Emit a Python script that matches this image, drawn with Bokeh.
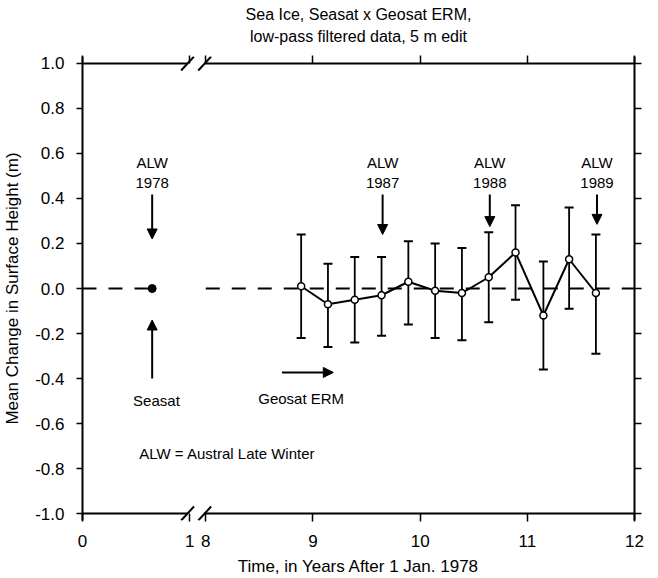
import numpy as np
from bokeh.plotting import figure
from bokeh.models import (FixedTicker, LinearAxis, Range1d, Arrow, NormalHead, Label, Title,
                          Whisker, ColumnDataSource, NumeralTickFormatter, TeeHead)
from bokeh.embed import file_html
from bokeh.resources import INLINE

# ---------------- data (years after 1 Jan 1978, metres) ----------------
seasat_time = [0.65]
seasat_change = [0.0]

geosat_time = [8.89, 9.14, 9.39, 9.64, 9.89, 10.14, 10.39, 10.64, 10.89, 11.15, 11.39, 11.64]
geosat_change = [0.01, -0.07, -0.05, -0.03, 0.03, -0.01, -0.02, 0.05, 0.16, -0.12, 0.13, -0.02]
geosat_upper = [0.24, 0.11, 0.14, 0.14, 0.21, 0.20, 0.18, 0.25, 0.37, 0.12, 0.36, 0.24]
geosat_lower = [-0.22, -0.26, -0.24, -0.21, -0.16, -0.22, -0.23, -0.15, -0.05, -0.36, -0.09, -0.29]

alw_time = [0.65, 9.65, 10.65, 11.65]
alw_year = ["1978", "1987", "1988", "1989"]
alw_arrow_tip = [0.22, 0.24, 0.275, 0.285]

x_tick_years = [0, 1, 8, 9, 10, 11, 12]
y_ticks = [-1.0, -0.8, -0.6, -0.4, -0.2, 0.0, 0.2, 0.4, 0.6, 0.8, 1.0]

title_lines = ["Sea Ice, Seasat x Geosat ERM,", "low-pass filtered data, 5 m edit"]
x_label = "Time, in Years After 1 Jan. 1978"
y_label = "Mean Change in Surface Height (m)"

# ---------------- broken time axis ----------------
BREAK_LO, BREAK_HI, GAP = 1.0, 8.0, 0.15


def bx(t):
    t = np.asarray(t, dtype=float)
    return np.where(t <= BREAK_LO + 0.5, t, t - BREAK_HI + BREAK_LO + GAP)


FONT = "Liberation Sans"
X_END = float(bx(12))
PAD = 7 / 225.5          # vertical axes overshoot the box by a few pixels
Y0, Y1 = y_ticks[0], y_ticks[-1]

p = figure(width=658, height=578, output_backend="svg", toolbar_location=None,
           x_range=Range1d(0, X_END), y_range=Range1d(Y0 - PAD, Y1 + PAD),
           x_axis_location=None, y_axis_location=None,
           min_border_left=82, min_border_right=24, min_border_top=56, min_border_bottom=57)
p.grid.visible = False
p.outline_line_color = None
p.background_fill_color = "white"
p.border_fill_color = "white"

xt = [float(v) for v in bx(x_tick_years)]
x_over = {u: str(y) for u, y in zip(xt, x_tick_years)}


def style(ax, show_labels, tick_in, tick_out):
    ax.axis_line_width = 2
    ax.axis_line_color = "black"
    ax.major_tick_line_width = 1.5
    ax.major_tick_out = tick_out
    ax.major_tick_in = tick_in
    ax.minor_tick_out = 0
    ax.minor_tick_in = 0
    ax.major_label_text_font = FONT
    if show_labels:
        ax.major_label_text_font_size = "17px"
        ax.major_label_text_color = "black"
    else:
        ax.major_label_text_font_size = "1px"
        ax.major_label_text_color = None
        ax.major_label_standoff = 0
    ax.axis_label_text_font = FONT
    ax.axis_label_text_font_style = "normal"
    ax.axis_label_text_font_size = "17px"
    ax.axis_label_text_color = "black"


bottom = LinearAxis(ticker=FixedTicker(ticks=xt), major_label_overrides=x_over, axis_label=x_label)
style(bottom, True, 7, 1)
bottom.axis_line_color = None
bottom.major_label_standoff = 13
bottom.axis_label_standoff = 7
p.add_layout(bottom, "below")

top = LinearAxis(ticker=FixedTicker(ticks=xt))
style(top, False, 7, 1)
top.axis_line_color = None
p.add_layout(top, "above")

# invisible spacer axis: lifts the two title lines away from the box
spacer = LinearAxis(ticker=FixedTicker(ticks=xt))
style(spacer, False, 0, 8)
spacer.axis_line_color = None
spacer.major_tick_line_color = None
p.add_layout(spacer, "above")

p.add_layout(Title(text=title_lines[1], align="center", offset=-25, text_font=FONT,
                   text_font_size="16px", text_font_style="normal", text_color="black",
                   standoff=6), "above")
p.add_layout(Title(text=title_lines[0], align="center", offset=-25, text_font=FONT,
                   text_font_size="16px", text_font_style="normal", text_color="black",
                   standoff=0), "above")

left = LinearAxis(ticker=FixedTicker(ticks=y_ticks), formatter=NumeralTickFormatter(format="0.0"),
                  axis_label=y_label)
style(left, True, 0, 6)
left.major_label_standoff = 12
left.axis_label_standoff = 10
p.add_layout(left, "left")

right = LinearAxis(ticker=FixedTicker(ticks=y_ticks))
style(right, False, 0, 7)
p.add_layout(right, "right")

# top and bottom box lines, interrupted by the axis break
cut_a, cut_b = 0.98, 1.14
box_xs, box_ys = [], []
for yy in (Y0, Y1):
    for xs, xe in ((0.0, cut_a), (cut_b, X_END)):
        box_xs.append([xs, xe])
        box_ys.append([yy, yy])
p.multi_line(box_xs, box_ys, line_color="black", line_width=2)

sl_dx, sl_dy = 0.06, PAD
s_x0, s_y0, s_x1, s_y1 = [], [], [], []
for yy in (Y0, Y1):
    for xc in (cut_a, cut_b):
        s_x0.append(xc - sl_dx); s_y0.append(yy - sl_dy)
        s_x1.append(xc + sl_dx); s_y1.append(yy + sl_dy)
p.segment(s_x0, s_y0, s_x1, s_y1, line_color="black", line_width=2)

# zero reference (dashed)
p.line([0.0, float(bx(seasat_time)[0])], [0, 0], line_color="black", line_width=2, line_dash="14 12")
p.line([float(bx(BREAK_HI)), X_END], [0, 0], line_color="black", line_width=2, line_dash="14 12")

# Geosat series with error bars
gu = bx(geosat_time)
src = ColumnDataSource(dict(x=gu, y=geosat_change, upper=geosat_upper, lower=geosat_lower))
p.add_layout(Whisker(base="x", upper="upper", lower="lower", source=src, dimension="height",
                     line_width=1.8, line_color="black",
                     upper_head=TeeHead(size=9, line_width=2, line_color="black"),
                     lower_head=TeeHead(size=9, line_width=2, line_color="black")))
p.line("x", "y", source=src, line_color="black", line_width=2)
p.scatter("x", "y", source=src, size=7, fill_color="white", line_color="black", line_width=1.5)

# Seasat point
p.scatter(bx(seasat_time), seasat_change, size=8, fill_color="black", line_color="black")


def label(x, y, text, align="center", size="15px"):
    p.add_layout(Label(x=x, y=y, text=text, text_align=align, text_baseline="middle",
                       text_font=FONT, text_font_size=size, text_color="black"))


def arrow(xs, ys, xe, ye):
    p.add_layout(Arrow(x_start=xs, y_start=ys, x_end=xe, y_end=ye, line_width=2, line_color="black",
                       end=NormalHead(size=10, fill_color="black", line_color="black")))


# ALW annotations
for t, yr, tip in zip(alw_time, alw_year, alw_arrow_tip):
    u = float(bx(t))
    label(u, 0.56, "ALW")
    label(u, 0.47, yr)
    arrow(u, 0.418, u, tip)

# Seasat annotation
su = float(bx(seasat_time)[0])
arrow(su, -0.40, su, -0.14)
label(su + 0.04, -0.498, "Seasat")

# Geosat ERM annotation
arrow(float(bx(8.71)), -0.373, float(bx(9.19)), -0.373)
label(float(bx(8.89)), -0.489, "Geosat ERM")

label(0.53, -0.733, "ALW = Austral Late Winter", align="left")

open("out.html", "w").write(file_html(p, INLINE))
